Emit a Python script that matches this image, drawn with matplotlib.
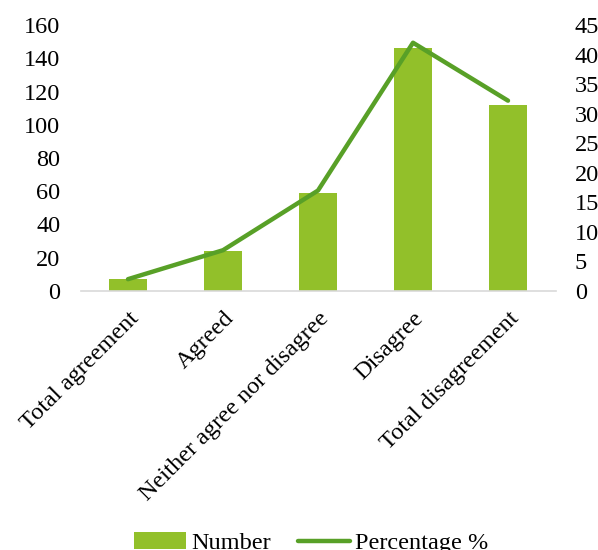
import matplotlib.pyplot as plt

plt.rcParams["font.family"] = ["Liberation Serif", "DejaVu Serif"]

categories = ["Total agreement", "Agreed", "Neither agree nor disagree",
              "Disagree", "Total disagreement"]
number = [7, 24, 59, 146, 112]
percentage = [2.0, 6.9, 17.0, 42.0, 32.2]

BAR_C = "#92C02A"
LINE_C = "#58A027"
FS = 17.5

fig = plt.figure(figsize=(5.98, 5.5), dpi=100)
ax = fig.add_axes([80.5 / 598, 1 - 291 / 550, 475 / 598, 266 / 550])
ax2 = ax.twinx()

x = list(range(len(categories)))
bars = ax.bar(x, number, width=0.39, color=BAR_C, zorder=2, label="Number")
line, = ax2.plot(x, percentage, color=LINE_C, lw=3.2, solid_capstyle="round",
                 zorder=3, label="Percentage %")

ax.set_xlim(-0.5, len(categories) - 0.5)
ax.set_ylim(0, 160)
ax.set_yticks(range(0, 161, 20))
ax2.set_ylim(0, 45)
ax2.set_yticks(range(0, 46, 5))

ax.set_xticks(x)
ax.set_xticklabels(categories, rotation=45, ha="right", va="top",
                   rotation_mode="anchor", fontsize=FS)
for a in (ax, ax2):
    for sp in a.spines.values():
        sp.set_visible(False)
    a.tick_params(length=0, labelsize=FS)
ax.spines["bottom"].set_visible(True)
ax.spines["bottom"].set_color("#D9D9D9")
ax.spines["bottom"].set_linewidth(1.2)
ax.tick_params(axis="y", pad=14.5)
ax2.tick_params(axis="y", pad=14)
ax.tick_params(axis="x", pad=12)

fig.legend([bars, line], ["Number", "Percentage %"], loc="center",
           bbox_to_anchor=(311 / 598, 1 - 543 / 550), ncol=2, frameon=False,
           fontsize=FS, handlelength=2.15, handletextpad=0.2, columnspacing=1.1)

fig.savefig("out.png", dpi=100)
